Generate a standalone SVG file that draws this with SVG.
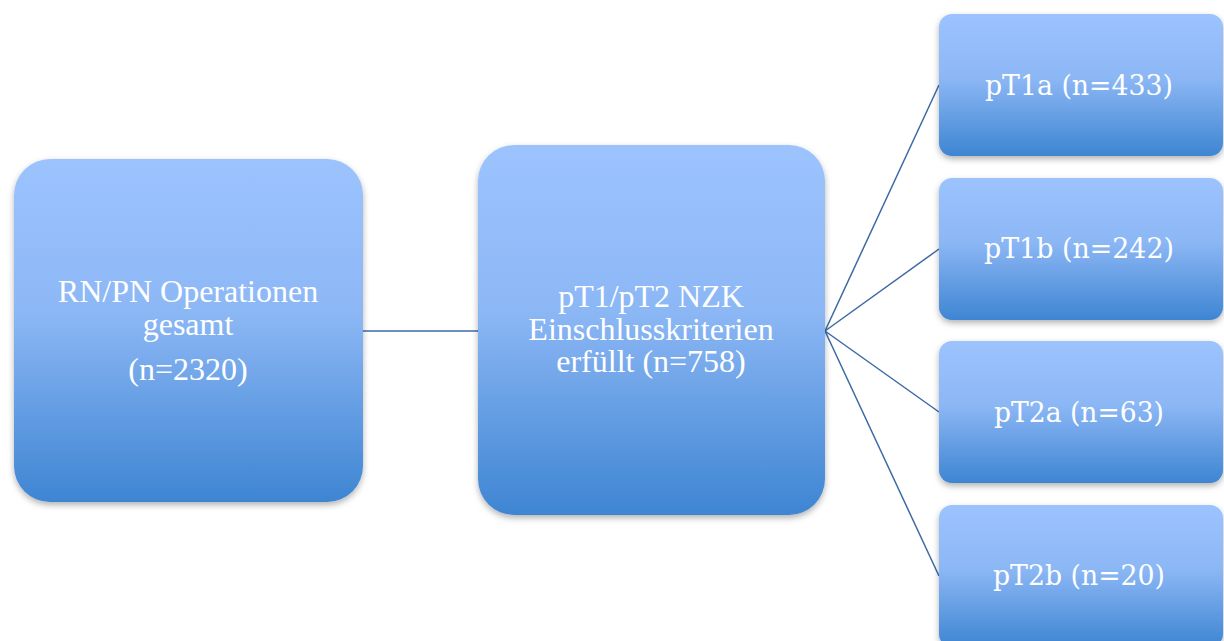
<svg xmlns="http://www.w3.org/2000/svg" width="1224" height="641" viewBox="0 0 1224 641">
<defs>
<linearGradient id="g" x1="0" y1="0" x2="0" y2="1">
<stop offset="0" stop-color="#9CC3FE"/>
<stop offset="0.45" stop-color="#8CB7F5"/>
<stop offset="1" stop-color="#3E85D2"/>
</linearGradient>
<filter id="sh" x="-10%" y="-10%" width="120%" height="130%">
<feDropShadow dx="0" dy="3" stdDeviation="3" flood-color="#000" flood-opacity="0.3"/>
</filter>
<style>
.box{fill:url(#g);filter:url(#sh);}
.t{fill:#fff;font-family:"Liberation Serif","Times New Roman",serif;font-size:32px;text-anchor:middle;}
.t2{fill:#fff;font-family:"DejaVu Serif","Liberation Serif",serif;font-size:27px;text-anchor:middle;}
.c{stroke:#3C6AA5;stroke-width:1.5;fill:none;}
</style>
</defs>
<rect width="1224" height="641" fill="#fff"/>
<g id="connectors">
<line class="c" x1="363" y1="331" x2="478" y2="331"/>
<line class="c" x1="825" y1="331" x2="939" y2="85"/>
<line class="c" x1="825" y1="331" x2="939" y2="249"/>
<line class="c" x1="825" y1="331" x2="939" y2="412"/>
<line class="c" x1="825" y1="331" x2="939" y2="576"/>
</g>
<g id="node-total">
<rect class="box" x="14" y="159" width="349" height="343" rx="36"/>
<text class="t" x="188" y="302">RN/PN Operationen</text>
<text class="t" x="188" y="335">gesamt</text>
<text class="t" x="188" y="380">(n=2320)</text>
</g>
<g id="node-included">
<rect class="box" x="478" y="145" width="347" height="370" rx="36"/>
<text class="t" x="651" y="307">pT1/pT2 NZK</text>
<text class="t" x="651" y="340">Einschlusskriterien</text>
<text class="t" x="651" y="372">erfüllt (n=758)</text>
</g>
<g id="node-pT1a">
<rect class="box" x="939" y="14" width="284" height="142" rx="13"/>
<text class="t2" x="1079" y="95" textLength="188" lengthAdjust="spacingAndGlyphs">pT1a (n=433)</text>
</g>
<g id="node-pT1b">
<rect class="box" x="939" y="178" width="284" height="142" rx="13"/>
<text class="t2" x="1079" y="258" textLength="190" lengthAdjust="spacingAndGlyphs">pT1b (n=242)</text>
</g>
<g id="node-pT2a">
<rect class="box" x="939" y="341" width="284" height="142" rx="13"/>
<text class="t2" x="1079" y="422" textLength="170" lengthAdjust="spacingAndGlyphs">pT2a (n=63)</text>
</g>
<g id="node-pT2b">
<rect class="box" x="939" y="505" width="284" height="142" rx="13"/>
<text class="t2" x="1079" y="585" textLength="172" lengthAdjust="spacingAndGlyphs">pT2b (n=20)</text>
</g>
</svg>
